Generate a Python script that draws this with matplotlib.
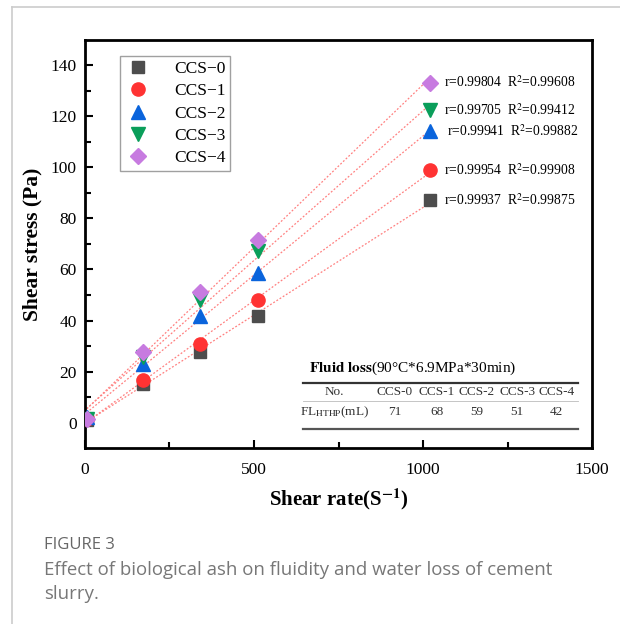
import numpy as np
import matplotlib.pyplot as plt
from matplotlib.lines import Line2D

plt.rcParams['font.family'] = ['Liberation Serif', 'DejaVu Serif']
plt.rcParams['mathtext.fontset'] = 'stix'

# data
shear_rate = [5.1, 170.3, 340.6, 511, 1022]
series = ["CCS-0", "CCS-1", "CCS-2", "CCS-3", "CCS-4"]
stress = {
    "CCS-0": [1.0, 15.2, 27.6, 41.6, 87.1],
    "CCS-1": [1.2, 16.8, 30.6, 48.2, 99.0],
    "CCS-2": [2.0, 23.1, 41.9, 58.8, 114.2],
    "CCS-3": [1.5, 25.5, 48.2, 67.3, 122.4],
    "CCS-4": [1.5, 27.5, 51.2, 71.7, 133.3],
}
r_vals = ["0.99937", "0.99954", "0.99941", "0.99705", "0.99804"]
r2_vals = ["0.99875", "0.99908", "0.99882", "0.99412", "0.99608"]
fl_loss = [71, 68, 59, 51, 42]

colours = ["#4d4d4d", "#ff3333", "#0a64dc", "#0a9e5a", "#c77be0"]
markers = ["s", "o", "^", "v", "D"]
msizes = [8, 9.5, 9.5, 9.5, 8]

fig = plt.figure(figsize=(6.2, 6.24), dpi=100)
ax = fig.add_axes([0.137, 0.282, 0.818, 0.654])

handles = []
for i, name in enumerate(series):
    y = stress[name]
    k, b = np.polyfit(shear_rate, y, 1)
    xs = np.array([shear_rate[0], shear_rate[-1]])
    ax.plot(xs, k * xs + b, color="#ff8080", lw=0.9, ls=(0, (1.5, 1.5)), zorder=2)
    ax.plot(shear_rate, y, ls="none", marker=markers[i], color=colours[i],
            ms=msizes[i], mec=colours[i], zorder=3)
    handles.append(Line2D([], [], ls="none", marker=markers[i], color=colours[i],
                          ms=msizes[i], label=name.replace("-", "\u2212")))
    dx = 12 if name == "CCS-2" else 10
    ax.annotate("r=%s  R$^2$=%s" % (r_vals[i], r2_vals[i]),
                (shear_rate[-1], y[-1]), xytext=(dx, 0), textcoords="offset points",
                va="center", ha="left", fontsize=9.8)

ax.set_xlim(0, 1500)
ax.set_ylim(-10, 150)
ax.set_xticks([0, 500, 1000, 1500])
ax.set_xticks([250, 750, 1250], minor=True)
ax.set_yticks(range(0, 141, 20))
ax.set_yticks(range(10, 150, 20), minor=True)
ax.tick_params(which="both", direction="in", top=False, right=False, labelsize=12.5, width=1.5)
ax.tick_params(which="major", length=6)
ax.tick_params(which="minor", length=4)
ax.tick_params(axis="x", pad=10)
ax.tick_params(axis="y", pad=6)
for s in ax.spines.values():
    s.set_linewidth(2)

ax.set_xlabel("Shear rate(S$^{\\mathbf{-1}}$)", fontsize=15, fontweight="bold", labelpad=6)
ax.set_ylabel("Shear stress (Pa)", fontsize=15.5, fontweight="bold", labelpad=6)

leg = ax.legend(handles=handles, loc="upper left", bbox_to_anchor=(0.069, 0.961),
                fontsize=12.5, frameon=True, fancybox=False, edgecolor="#888888",
                handletextpad=1.3, labelspacing=0.35, borderpad=0.3, handlelength=1.5,
                borderaxespad=0)
leg.get_frame().set_linewidth(1.0)

# fluid loss table
fig.text(0.498, 0.410, "$\\mathbf{Fluid\\ loss}$(90°C*6.9MPa*30min)", fontsize=11,
         va="center", ha="left")
col_x = [0.637, 0.705, 0.769, 0.834, 0.898]
fig.text(0.540, 0.371, "No.", fontsize=9.5, ha="center", va="center", color="#333333")
fig.text(0.540, 0.340, "FL$_{\\rm HTHP}$(mL)", fontsize=9.5, ha="center", va="center", color="#333333")
for cx, name, fl in zip(col_x, series, fl_loss):
    fig.text(cx, 0.371, name, fontsize=9.5, ha="center", va="center", color="#333333")
    fig.text(cx, 0.340, str(fl), fontsize=9.5, ha="center", va="center", color="#333333")
fig.add_artist(Line2D([0.489, 0.932], [0.387, 0.387], color="#333333", lw=1.6))
fig.add_artist(Line2D([0.489, 0.932], [0.357, 0.357], color="#bbbbbb", lw=0.6))
fig.add_artist(Line2D([0.489, 0.932], [0.3125, 0.3125], color="#555555", lw=1.6))

# panel frame and caption
fig.add_artist(Line2D([0.020, 0.020], [0.0, 0.989], color="#cccccc", lw=1.2))
fig.add_artist(Line2D([0.020, 1.0], [0.989, 0.989], color="#cccccc", lw=1.2))
fig.text(0.071, 0.127, "FIGURE 3", fontsize=12, color="#666666", family="Open Sans", va="center")
fig.text(0.071, 0.087, "Effect of biological ash on fluidity and water loss of cement",
         fontsize=13.4, color="#777777", family="Open Sans", va="center")
fig.text(0.071, 0.048, "slurry.", fontsize=13.4, color="#777777", family="Open Sans", va="center")

fig.savefig("out.png", dpi=100)
